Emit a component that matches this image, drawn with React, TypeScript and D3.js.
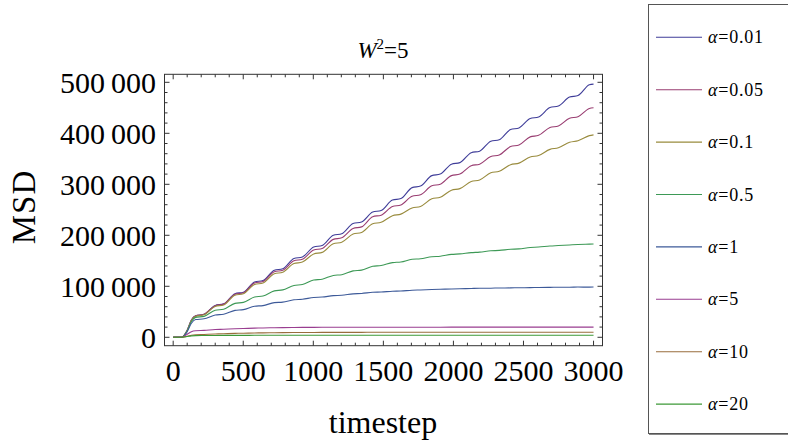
import React from "react";
import * as d3 from "d3";

const timesteps = [0, 60, 100, 130, 160, 220, 300, 360, 441, 501, 581, 641, 722, 782, 862, 922, 1003, 1063, 1143, 1203, 1284, 1344, 1424, 1484, 1565, 1625, 1705, 1765, 1846, 1906, 1986, 2046, 2127, 2187, 2267, 2327, 2408, 2468, 2548, 2608, 2689, 2749, 2829, 2889, 2970, 3000];

const msdA001 = [0, 0, 14000, 34000, 42200, 45200, 62500, 65500, 85500, 88500, 108500, 111500, 131500, 134500, 154500, 157500, 177000, 180000, 200000, 203000, 223000, 226000, 245500, 248500, 269000, 272000, 293500, 296500, 317000, 320000, 339500, 342500, 362000, 365000, 384500, 387500, 407500, 410500, 429000, 432000, 450500, 453500, 471000, 474000, 495000, 496500];
const msdA005 = [0, 0, 13800, 33800, 42000, 45000, 62000, 65000, 84500, 87500, 106500, 109500, 128500, 131500, 150000, 153000, 171000, 174000, 192000, 195000, 213500, 216500, 236500, 239500, 256500, 259500, 276500, 279500, 297000, 300000, 317000, 320000, 336500, 339500, 354500, 357500, 374000, 377000, 393000, 396000, 411500, 414500, 429500, 432500, 448500, 450000];
const msdA01 = [0, 0, 13500, 33000, 41000, 44000, 60500, 63500, 82500, 85500, 103500, 106500, 124500, 127500, 144500, 147500, 163500, 166500, 183500, 186500, 202500, 205500, 222500, 225500, 238500, 241500, 253500, 256500, 271500, 274500, 288500, 291500, 305500, 308500, 322500, 325500, 338500, 341500, 353500, 356500, 368500, 371500, 382500, 385500, 395500, 397000];
const msdA05 = [0, 0, 12500, 31000, 39000, 41000, 53000, 55000, 66500, 68500, 79000, 81000, 91000, 93000, 101600, 103400, 112200, 113800, 121300, 122700, 130300, 131700, 139300, 140700, 146400, 147600, 153000, 154000, 158000, 159000, 162500, 163500, 166000, 167000, 169600, 170400, 172600, 173400, 176100, 176900, 179100, 179900, 181100, 181900, 182700, 183000];
const msdA1 = [0, 0, 11000, 27500, 34800, 36200, 43800, 45200, 52800, 54200, 60900, 62100, 68000, 69000, 73500, 74500, 78100, 78900, 81600, 82400, 85100, 85900, 88200, 88800, 90200, 90800, 92200, 92800, 93700, 94300, 94800, 95200, 95800, 96200, 96300, 96700, 96800, 97200, 97300, 97700, 97800, 98200, 98100, 98500, 98400, 98500];
const msdA5 = [0, 0, 6000, 11000, 12800, 13600, 15200, 15800, 16800, 17300, 17900, 18300, 18700, 19000, 19200, 19400, 19500, 19600, 19700, 19700, 19800, 19800, 19800, 19800, 19800, 19800, 19800, 19800, 19800, 19800, 19900, 19900, 19900, 19900, 19900, 19900, 19900, 19900, 19900, 19900, 19900, 19900, 19900, 19900, 19900, 19900];
const msdA10 = [0, 0, 2000, 4000, 5000, 5600, 6500, 7000, 7700, 8000, 8500, 8700, 9000, 9200, 9300, 9400, 9500, 9600, 9600, 9700, 9700, 9700, 9800, 9800, 9800, 9800, 9800, 9800, 9800, 9800, 9800, 9800, 9800, 9800, 9800, 9800, 9800, 9800, 9800, 9800, 9800, 9800, 9800, 9800, 9800, 9800];
const msdA20 = [0, 0, 1500, 2800, 3200, 3400, 3600, 3700, 3750, 3800, 3850, 3850, 3900, 3900, 3900, 3900, 3900, 3900, 3900, 3900, 3900, 3900, 3900, 3900, 3900, 3900, 3900, 3900, 3900, 3900, 3900, 3900, 3900, 3900, 3900, 3900, 3900, 3900, 3900, 3900, 3900, 3900, 3900, 3900, 3900, 3900];

const alphaLabels = ["0.01", "0.05", "0.1", "0.5", "1", "5", "10", "20"];
const seriesValues = [msdA001, msdA005, msdA01, msdA05, msdA1, msdA5, msdA10, msdA20];
const seriesColors = [
  "rgb(63,61,153)",
  "rgb(153,61,113)",
  "rgb(153,139,61)",
  "rgb(61,153,86)",
  "rgb(61,90,153)",
  "rgb(153,61,144)",
  "rgb(153,109,61)",
  "rgb(61,153,55)",
];

const xMajorTicks = [0, 500, 1000, 1500, 2000, 2500, 3000];
const yMajorTicks = [0, 100000, 200000, 300000, 400000, 500000];

const FONT = "'Liberation Serif', 'Times New Roman', serif";

export default function App() {
  const x = d3.scaleLinear().domain([-62, 3064]).range([164.5, 602.5]);
  const y = d3.scaleLinear().domain([-16500, 515700]).range([345.7, 74.3]);
  const [x0, x1] = x.range();
  const [y0, y1] = y.range();

  const xMinor = d3.range(0, 3001, 100).filter((v) => v % 500 !== 0);
  const yMinor = d3.range(0, 500001, 20000).filter((v) => v % 100000 !== 0);

  const line = d3
    .line<number>()
    .x((_, i) => x(timesteps[i]))
    .y((d) => y(d))
    .curve(d3.curveMonotoneX);

  const fmt = (v: number) => d3.format(",")(v).replace(/,/g, "\u2009");

  const frameColor = "#333";
  const MAJ = 5;
  const MIN = 3;

  const legendY0 = 37.3;
  const legendStep = 52.4;

  return (
    <svg
      width={788}
      height={445}
      style={{ position: "absolute", left: 0, top: 0, background: "#fff" }}
    >
      <rect x={0} y={0} width={788} height={445} fill="#fff" />
      {/* title */}
      <text x={383} y={58} textAnchor="middle" fontFamily={FONT} fontSize={23} fill="#000">
        <tspan fontStyle="italic">W</tspan>
        <tspan dy={-9} fontSize={15}>2</tspan>
        <tspan dy={9}>=5</tspan>
      </text>

      {/* lines */}
      <g>
        {seriesValues.map((vals, i) => (
          <path key={i} d={line(vals) || ""} fill="none" stroke={seriesColors[i]} strokeWidth={1.1} />
        ))}
      </g>

      {/* frame */}
      <rect x={x0} y={y1} width={x1 - x0} height={y0 - y1} fill="none" stroke={frameColor} strokeWidth={1} />

      {/* x ticks */}
      {xMajorTicks.map((v) => (
        <g key={"xM" + v}>
          <line x1={x(v)} x2={x(v)} y1={y0} y2={y0 - MAJ} stroke={frameColor} />
          <line x1={x(v)} x2={x(v)} y1={y1} y2={y1 + MAJ} stroke={frameColor} />
          <text x={x(v)} y={381} textAnchor="middle" fontFamily={FONT} fontSize={30} fill="#000">
            {String(v)}
          </text>
        </g>
      ))}
      {xMinor.map((v) => (
        <g key={"xm" + v}>
          <line x1={x(v)} x2={x(v)} y1={y0} y2={y0 - MIN} stroke={frameColor} />
          <line x1={x(v)} x2={x(v)} y1={y1} y2={y1 + MIN} stroke={frameColor} />
        </g>
      ))}

      {/* y ticks */}
      {yMajorTicks.map((v) => (
        <g key={"yM" + v}>
          <line x1={x0} x2={x0 + MAJ} y1={y(v)} y2={y(v)} stroke={frameColor} />
          <line x1={x1} x2={x1 - MAJ} y1={y(v)} y2={y(v)} stroke={frameColor} />
          <text x={156} y={y(v) + 10.5} textAnchor="end" fontFamily={FONT} fontSize={30} fill="#000">
            {fmt(v)}
          </text>
        </g>
      ))}
      {yMinor.map((v) => (
        <g key={"ym" + v}>
          <line x1={x0} x2={x0 + MIN} y1={y(v)} y2={y(v)} stroke={frameColor} />
          <line x1={x1} x2={x1 - MIN} y1={y(v)} y2={y(v)} stroke={frameColor} />
        </g>
      ))}

      {/* axis labels */}
      <text x={383} y={433} textAnchor="middle" fontFamily={FONT} fontSize={32} fill="#000">
        timestep
      </text>
      <text
        transform={`translate(35,207) rotate(-90)`}
        textAnchor="middle"
        fontFamily={FONT}
        fontSize={33}
        letterSpacing={1}
        fill="#000"
      >
        MSD
      </text>

      {/* legend */}
      <rect x={648.5} y={4.5} width={145} height={429} fill="#fff" stroke="#555" strokeWidth={1} />
      <line x1={649} x2={788} y1={434.5} y2={434.5} stroke="#888" strokeWidth={1} />
      {alphaLabels.map((lab, i) => {
        const ly = legendY0 + i * legendStep;
        return (
          <g key={"lg" + i}>
            <line x1={656} x2={702} y1={ly} y2={ly} stroke={seriesColors[i]} strokeWidth={1.1} />
            <text x={708} y={ly + 6} fontFamily={FONT} fontSize={18} letterSpacing={0.8} fill="#000">
              <tspan fontStyle="italic">α</tspan>
              <tspan>=</tspan>
              <tspan>{lab}</tspan>
            </text>
          </g>
        );
      })}
    </svg>
  );
}
